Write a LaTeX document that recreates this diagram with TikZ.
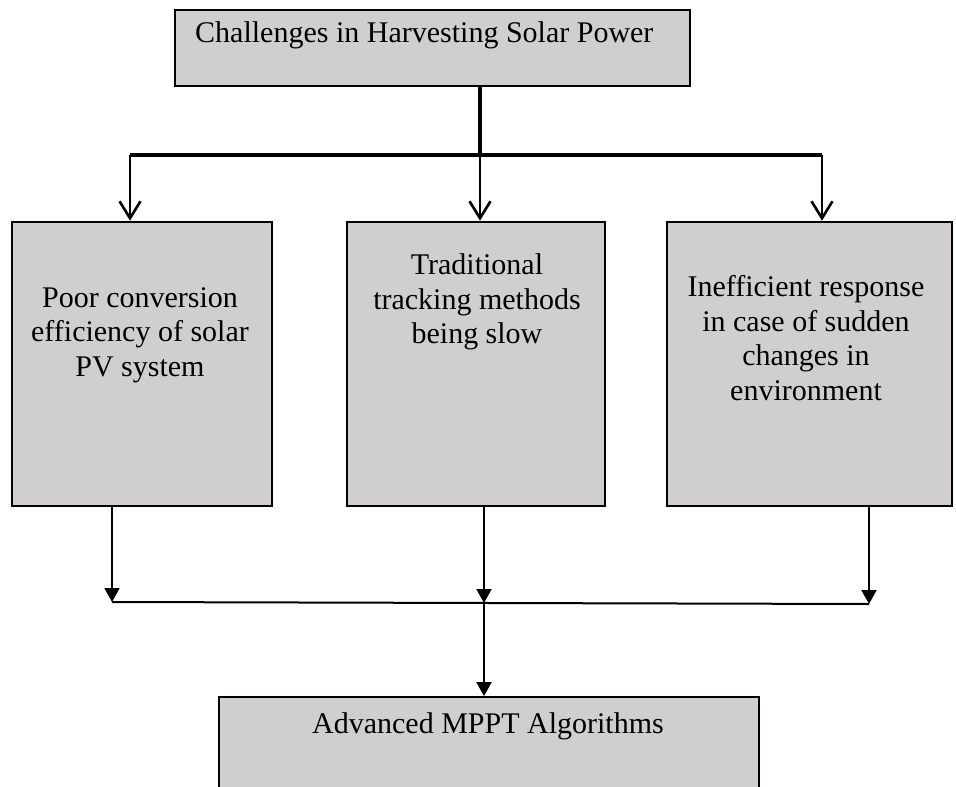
\documentclass[tikz,border=0pt]{standalone}
\usepackage{fontspec}
\setmainfont{Liberation Serif}
\usetikzlibrary{arrows.meta}
\definecolor{boxgray}{RGB}{208,206,207}
\begin{document}
\begin{tikzpicture}[x=1pt,y=-1pt,
  box/.style={draw=black, fill=boxgray, line width=2.6pt, inner sep=0pt},
  thinbox/.style={box, line width=1.8pt},
  txt/.style={font=\fontsize{30}{34.5}\selectfont, align=center, inner sep=0pt},
  trunk/.style={line width=3.2pt},
  feed/.style={line width=2.6pt, -{Straight Barb[length=17pt,width=21pt,line width=2.6pt]}},
  merge/.style={line width=2pt},
  mergearrow/.style={line width=2pt, -{Triangle[length=14pt,width=15pt]}}]
\useasboundingbox (0,0) rectangle (956,787);

% boxes
\node[box, minimum width=515pt, minimum height=76pt] (top) at (432.5,48) {};
\node[box, minimum width=260pt, minimum height=284pt] (left) at (142,364) {};
\node[box, minimum width=258pt, minimum height=284pt] (mid) at (476,364) {};
\node[box, minimum width=285pt, minimum height=284pt] (right) at (809.5,364) {};
\node[thinbox, minimum width=540pt, minimum height=110pt] (bottom) at (489,752) {};

% texts
\node[txt, anchor=base west] (toptxt) at (195,42) {Challenges in Harvesting Solar Power};
\node[txt] (lefttxt) at (140,335) {Poor conversion\\efficiency of solar\\PV system};
\node[txt] (midtxt) at (477,302) {Traditional\\tracking methods\\being slow};
\node[txt] (righttxt) at (806,338) {Inefficient response\\in case of sudden\\changes in\\environment};
\node[txt, anchor=base] (bottxt) at (488,733) {Advanced MPPT Algorithms};

% split from the top box to the three challenge boxes
\coordinate (split) at (480,155);
\coordinate (fl) at (130,155);
\coordinate (fr) at (822,155);
\draw[trunk] (top.south -| split) -- (split);
\draw[trunk] (fl) -- (fr);
\draw[feed] (fl) -- (fl |- left.north);
\draw[feed] (split) -- (split |- mid.north);
\draw[feed] (fr) -- (fr |- right.north);

% merge into the MPPT box
\coordinate (ml) at (112,602);
\coordinate (mm) at (484,603);
\coordinate (mr) at (869,604);
\draw[mergearrow] (left.south -| ml) -- (ml);
\draw[mergearrow] (mid.south -| mm) -- (mm);
\draw[mergearrow] (right.south -| mr) -- (mr);
\draw[merge] (ml) -- (mr);
\draw[mergearrow] (mm) -- (mm |- bottom.north);
\end{tikzpicture}
\end{document}
